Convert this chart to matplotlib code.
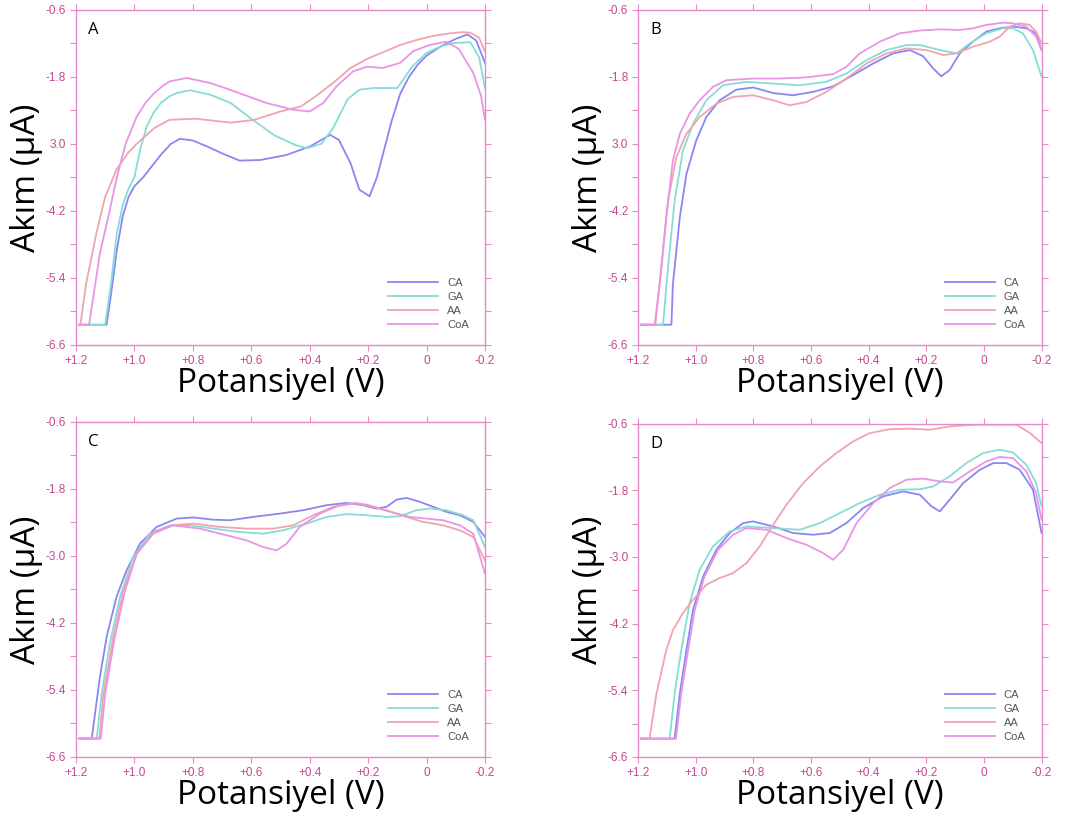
import matplotlib
matplotlib.use("Agg")
import matplotlib.pyplot as plt

plt.rcParams['font.family'] = ['Open Sans', 'DejaVu Sans']

series_names = ['CA', 'GA', 'AA', 'CoA']
series_colors = ['#8a86f2', '#86dcd6', '#f0a4ae', '#e994e6']

x_ticks = [1.2, 1.0, 0.8, 0.6, 0.4, 0.2, 0.0, -0.2]
x_tick_labels = ['+1.2', '+1.0', '+0.8', '+0.6', '+0.4', '+0.2', '0', '-0.2']
y_ticks = [-0.6, -1.8, -3.0, -4.2, -5.4, -6.6]
y_minor_ticks = [-1.2, -2.4, -3.6, -4.8, -6.0]
y_tick_labels_ab = ['-0.6', '-1.8', '3.0', '-4.2', '-5.4', '-6.6']
y_tick_labels_cd = ['-0.6', '-1.8', '-3.0', '-4.2', '-5.4', '-6.6']

# ---------------- panel A ----------------
a_ca_x = [1.19, 1.095, 1.08, 1.06, 1.04, 1.02, 1.0, 0.97, 0.94, 0.91, 0.875, 0.844, 0.8, 0.75, 0.7, 0.64,
          0.57, 0.48, 0.4, 0.33, 0.3, 0.26, 0.23, 0.195, 0.17, 0.15, 0.12, 0.09, 0.06, 0.03, 0.0, -0.05,
          -0.1, -0.14, -0.17, -0.2]
a_ca_y = [-6.24, -6.24, -5.7, -4.9, -4.3, -3.95, -3.76, -3.6, -3.4, -3.2, -3.0, -2.91, -2.94, -3.05, -3.17,
          -3.3, -3.29, -3.2, -3.05, -2.84, -2.93, -3.35, -3.82, -3.94, -3.6, -3.2, -2.6, -2.1, -1.8, -1.58,
          -1.42, -1.25, -1.12, -1.04, -1.15, -1.55]
a_ga_x = [1.19, 1.1, 1.08, 1.06, 1.04, 1.02, 1.0, 0.98, 0.958, 0.935, 0.91, 0.88, 0.855, 0.81, 0.74, 0.67,
          0.6, 0.52, 0.45, 0.41, 0.36, 0.32, 0.27, 0.23, 0.18, 0.13, 0.1, 0.08, 0.05, 0.0, -0.05, -0.1, -0.15,
          -0.18, -0.2]
a_ga_y = [-6.24, -6.24, -5.5, -4.6, -4.1, -3.8, -3.6, -3.1, -2.69, -2.45, -2.27, -2.15, -2.09, -2.04, -2.12,
          -2.27, -2.55, -2.85, -3.02, -3.08, -3.0, -2.72, -2.2, -2.03, -2.0, -2.0, -2.0, -1.85, -1.62, -1.37,
          -1.25, -1.19, -1.18, -1.45, -2.0]
a_aa_x = [1.19, 1.185, 1.165, 1.13, 1.1, 1.06, 1.02, 0.99, 0.93, 0.88, 0.79, 0.67, 0.59, 0.5, 0.43, 0.38,
          0.32, 0.26, 0.2, 0.15, 0.09, 0.035, -0.02, -0.08, -0.12, -0.15, -0.18, -0.2]
a_aa_y = [-6.24, -6.24, -5.5, -4.6, -3.95, -3.45, -3.15, -2.99, -2.71, -2.57, -2.55, -2.62, -2.57, -2.42,
          -2.33, -2.15, -1.91, -1.64, -1.47, -1.36, -1.23, -1.14, -1.07, -1.02, -1.0, -1.01, -1.1, -1.35]
a_coa_x = [1.19, 1.155, 1.118, 1.089, 1.06, 1.03, 0.992, 0.96, 0.932, 0.9, 0.878, 0.821, 0.741, 0.673, 0.6,
           0.547, 0.456, 0.4, 0.354, 0.308, 0.251, 0.205, 0.15, 0.09, 0.046, -0.01, -0.068, -0.11, -0.16,
           -0.187, -0.2]
a_coa_y = [-6.24, -6.24, -4.96, -4.3, -3.6, -3.0, -2.51, -2.25, -2.09, -1.95, -1.88, -1.82, -1.91, -2.03,
           -2.17, -2.27, -2.39, -2.42, -2.27, -1.97, -1.7, -1.62, -1.64, -1.55, -1.34, -1.23, -1.17, -1.3,
           -1.73, -2.15, -2.57]

# ---------------- panel B ----------------
b_ca_x = [1.19, 1.084, 1.079, 1.055, 1.032, 0.998, 0.963, 0.917, 0.859, 0.801, 0.731, 0.662, 0.593, 0.523,
          0.454, 0.384, 0.315, 0.257, 0.211, 0.176, 0.148, 0.119, 0.084, 0.038, -0.008, -0.055, -0.101,
          -0.147, -0.181, -0.2]
b_ca_y = [-6.24, -6.24, -5.52, -4.32, -3.54, -2.94, -2.52, -2.22, -2.03, -1.99, -2.09, -2.13, -2.07, -1.97,
          -1.77, -1.56, -1.38, -1.32, -1.43, -1.65, -1.79, -1.68, -1.38, -1.17, -0.99, -0.93, -0.9, -0.93,
          -1.02, -1.32]
b_ga_x = [1.19, 1.113, 1.096, 1.073, 1.044, 1.009, 0.963, 0.905, 0.824, 0.731, 0.639, 0.547, 0.477, 0.407,
          0.338, 0.268, 0.222, 0.153, 0.095, 0.049, -0.008, -0.066, -0.1, -0.135, -0.17, -0.2]
b_ga_y = [-6.24, -6.24, -5.22, -4.02, -3.12, -2.64, -2.22, -1.95, -1.89, -1.92, -1.95, -1.89, -1.74, -1.5,
          -1.32, -1.23, -1.23, -1.32, -1.38, -1.2, -1.02, -0.93, -0.93, -1.02, -1.32, -1.8]
b_aa_x = [1.19, 1.14, 1.119, 1.096, 1.067, 1.032, 0.986, 0.928, 0.87, 0.801, 0.731, 0.674, 0.616, 0.547,
          0.477, 0.407, 0.338, 0.268, 0.199, 0.141, 0.095, 0.038, -0.02, -0.055, -0.089, -0.124, -0.158,
          -0.181, -0.2]
b_aa_y = [-6.24, -6.24, -5.22, -4.02, -3.24, -2.82, -2.52, -2.28, -2.16, -2.13, -2.22, -2.31, -2.25, -2.07,
          -1.83, -1.56, -1.38, -1.29, -1.32, -1.41, -1.38, -1.26, -1.17, -1.08, -0.9, -0.84, -0.87, -0.99, -1.2]
b_coa_x = [1.19, 1.142, 1.125, 1.102, 1.079, 1.055, 1.021, 0.986, 0.94, 0.893, 0.801, 0.708, 0.616, 0.523,
           0.477, 0.431, 0.361, 0.292, 0.222, 0.153, 0.083, 0.037, -0.008, -0.066, -0.1, -0.146, -0.181, -0.2]
b_coa_y = [-6.24, -6.24, -5.52, -4.32, -3.3, -2.82, -2.46, -2.22, -1.98, -1.86, -1.83, -1.83, -1.81, -1.75,
           -1.62, -1.38, -1.17, -1.02, -0.97, -0.95, -0.96, -0.93, -0.87, -0.83, -0.84, -0.9, -1.08, -1.32]

# ---------------- panel C ----------------
c_ca_x = [1.19, 1.146, 1.118, 1.095, 1.061, 1.027, 0.981, 0.924, 0.855, 0.798, 0.73, 0.673, 0.593, 0.501,
          0.422, 0.342, 0.274, 0.217, 0.172, 0.137, 0.102, 0.069, 0.023, -0.023, -0.068, -0.114, -0.16, -0.2]
c_ca_y = [-6.27, -6.27, -5.17, -4.45, -3.73, -3.26, -2.78, -2.48, -2.33, -2.31, -2.35, -2.36, -2.3, -2.24,
          -2.18, -2.09, -2.05, -2.09, -2.15, -2.12, -1.99, -1.96, -2.03, -2.12, -2.21, -2.27, -2.39, -2.66]
c_ga_x = [1.19, 1.129, 1.112, 1.084, 1.049, 1.004, 0.947, 0.878, 0.81, 0.73, 0.639, 0.559, 0.491, 0.41,
          0.342, 0.274, 0.205, 0.137, 0.092, 0.035, -0.011, -0.068, -0.125, -0.16, -0.2]
c_ga_y = [-6.27, -6.27, -5.47, -4.57, -3.73, -3.02, -2.6, -2.45, -2.45, -2.51, -2.57, -2.6, -2.54, -2.42,
          -2.3, -2.25, -2.27, -2.3, -2.29, -2.18, -2.15, -2.18, -2.27, -2.36, -2.84]
c_aa_x = [1.19, 1.12, 1.106, 1.072, 1.038, 0.992, 0.935, 0.867, 0.798, 0.707, 0.616, 0.525, 0.456, 0.388,
          0.319, 0.251, 0.205, 0.137, 0.069, 0.012, -0.056, -0.114, -0.16, -0.2]
c_aa_y = [-6.27, -6.27, -5.47, -4.45, -3.62, -2.96, -2.6, -2.45, -2.42, -2.48, -2.51, -2.51, -2.45, -2.27,
          -2.12, -2.06, -2.08, -2.18, -2.3, -2.39, -2.45, -2.54, -2.66, -3.08]
c_coa_x = [1.19, 1.115, 1.1, 1.067, 1.032, 0.992, 0.935, 0.867, 0.776, 0.684, 0.616, 0.559, 0.513, 0.479,
           0.434, 0.365, 0.297, 0.24, 0.183, 0.125, 0.057, 0.0, -0.056, -0.114, -0.16, -0.2]
c_coa_y = [-6.27, -6.27, -5.47, -4.45, -3.62, -2.96, -2.57, -2.45, -2.51, -2.63, -2.72, -2.84, -2.9, -2.78,
           -2.48, -2.24, -2.09, -2.05, -2.12, -2.21, -2.3, -2.33, -2.36, -2.45, -2.6, -3.32]

# ---------------- panel D ----------------
d_ca_x = [1.19, 1.073, 1.055, 1.032, 1.009, 0.974, 0.928, 0.882, 0.835, 0.801, 0.731, 0.662, 0.593, 0.535,
          0.477, 0.419, 0.35, 0.28, 0.222, 0.182, 0.153, 0.119, 0.072, 0.014, -0.032, -0.078, -0.124, -0.17,
          -0.2]
d_ca_y = [-6.27, -6.27, -5.46, -4.68, -3.95, -3.35, -2.87, -2.57, -2.39, -2.36, -2.45, -2.57, -2.6, -2.57,
          -2.39, -2.12, -1.91, -1.82, -1.88, -2.09, -2.18, -1.97, -1.67, -1.43, -1.31, -1.31, -1.43, -1.79,
          -2.57]
d_ga_x = [1.19, 1.09, 1.073, 1.05, 1.021, 0.986, 0.94, 0.882, 0.824, 0.731, 0.639, 0.569, 0.5, 0.431,
          0.361, 0.292, 0.222, 0.176, 0.119, 0.061, 0.003, -0.055, -0.101, -0.147, -0.181, -0.2]
d_ga_y = [-6.27, -6.27, -5.46, -4.68, -3.83, -3.23, -2.81, -2.54, -2.45, -2.48, -2.51, -2.39, -2.21, -2.03,
          -1.88, -1.79, -1.78, -1.73, -1.55, -1.31, -1.13, -1.07, -1.12, -1.34, -1.67, -2.09]
d_aa_x = [1.19, 1.16, 1.136, 1.102, 1.079, 1.044, 1.009, 0.963, 0.917, 0.87, 0.824, 0.778, 0.731, 0.685,
          0.627, 0.569, 0.512, 0.454, 0.396, 0.327, 0.257, 0.187, 0.119, 0.038, -0.055, -0.113, -0.16, -0.2]
d_aa_y = [-6.27, -6.27, -5.46, -4.68, -4.32, -4.01, -3.77, -3.5, -3.38, -3.29, -3.11, -2.81, -2.42, -2.06,
          -1.67, -1.37, -1.13, -0.92, -0.77, -0.7, -0.69, -0.71, -0.65, -0.62, -0.62, -0.62, -0.77, -0.95]
d_coa_x = [1.19, 1.068, 1.05, 1.026, 1.003, 0.969, 0.922, 0.87, 0.824, 0.754, 0.685, 0.616, 0.558, 0.523,
           0.488, 0.442, 0.384, 0.327, 0.269, 0.211, 0.153, 0.107, 0.049, -0.008, -0.055, -0.101, -0.147,
           -0.181, -0.2]
d_coa_y = [-6.27, -6.27, -5.46, -4.68, -3.95, -3.35, -2.87, -2.6, -2.48, -2.51, -2.66, -2.78, -2.93, -3.05,
           -2.87, -2.39, -2.03, -1.76, -1.61, -1.59, -1.64, -1.66, -1.46, -1.28, -1.2, -1.22, -1.46, -1.85,
           -2.33]

panels = [
    ('A', [0.070, 0.580, 0.377, 0.408], y_tick_labels_ab,
     [(a_ca_x, a_ca_y), (a_ga_x, a_ga_y), (a_aa_x, a_aa_y), (a_coa_x, a_coa_y)]),
    ('B', [0.588, 0.580, 0.372, 0.408], y_tick_labels_ab,
     [(b_ca_x, b_ca_y), (b_ga_x, b_ga_y), (b_aa_x, b_aa_y), (b_coa_x, b_coa_y)]),
    ('C', [0.070, 0.078, 0.377, 0.408], y_tick_labels_cd,
     [(c_ca_x, c_ca_y), (c_ga_x, c_ga_y), (c_aa_x, c_aa_y), (c_coa_x, c_coa_y)]),
    ('D', [0.588, 0.078, 0.372, 0.406], y_tick_labels_cd,
     [(d_ca_x, d_ca_y), (d_ga_x, d_ga_y), (d_aa_x, d_aa_y), (d_coa_x, d_coa_y)]),
]

spine_color = '#e58cc6'
tick_text_color = '#c4478f'

fig = plt.figure(figsize=(10.85, 8.21), dpi=100)
for letter, rect, ylabels, curves in panels:
    ax = fig.add_axes(rect)
    for (xs, ys), name, col in zip(curves, series_names, series_colors):
        ax.plot(xs, ys, color=col, lw=1.3, label=name, solid_joinstyle='round')
    ax.set_xlim(1.2, -0.2)
    ax.set_ylim(-6.6, -0.6)
    ax.set_xticks(x_ticks)
    ax.set_xticklabels(x_tick_labels, family=['Liberation Sans'])
    ax.set_yticks(y_ticks)
    ax.set_yticklabels(ylabels, family=['Liberation Sans'])
    ax.set_yticks(y_minor_ticks, minor=True)
    ax.tick_params(axis='both', which='both', direction='out', color=spine_color,
                   top=True, right=True, labelcolor=tick_text_color, labelsize=8.5, length=4, width=0.8,
                   pad=3)
    ax.tick_params(axis='y', which='minor', length=4)
    for sp in ax.spines.values():
        sp.set_color(spine_color)
        sp.set_linewidth(1.0)
    ax.set_xlabel('Potansiyel (V)', fontsize=24, labelpad=0)
    ax.set_ylabel('Akım (μA)', fontsize=24, labelpad=2)
    ax.text(0.03, 0.94, letter, transform=ax.transAxes, fontsize=12, va='center', ha='left')
    leg = ax.legend(loc='lower right', bbox_to_anchor=(0.985, 0.015), frameon=False,
                    prop={'family': 'Liberation Sans', 'size': 8},
                    handlelength=4.5, labelspacing=0.35, handletextpad=0.8)
    for t in leg.get_texts():
        t.set_color('#555555')

fig.savefig('out.png', dpi=100)
